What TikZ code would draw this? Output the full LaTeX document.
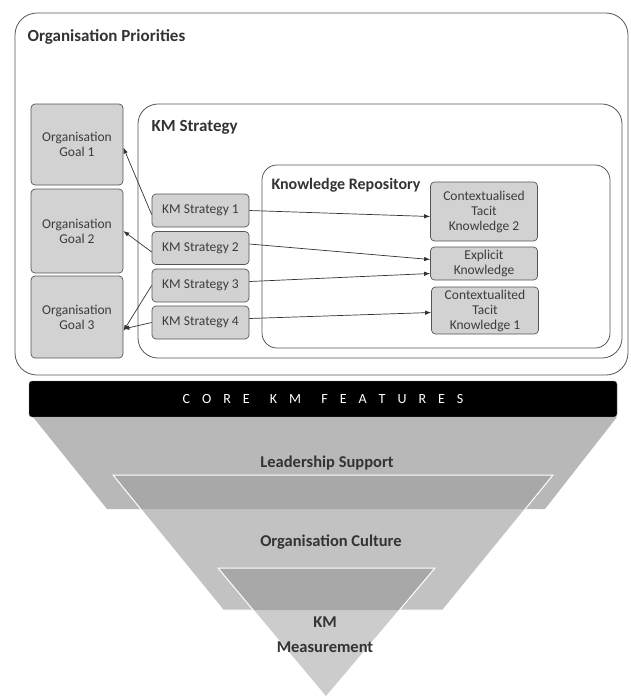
\documentclass[tikz,border=0pt]{standalone}
\usepackage{fontspec}
\setmainfont{Carlito}
\usepackage{tikz}
\usetikzlibrary{positioning,arrows.meta,calc}
\definecolor{cLine}{RGB}{85,85,85}
\definecolor{cBox}{RGB}{210,210,210}
\definecolor{cTxt}{RGB}{60,60,60}
\definecolor{cLead}{RGB}{184,184,184}
\definecolor{cCult}{RGB}{194,194,194}
\definecolor{cMeas}{RGB}{204,204,204}
\definecolor{cOver}{RGB}{168,168,168}
\newcommand{\boxfont}{\fontsize{13.5}{15}\selectfont}
\newcommand{\headfont}{\fontsize{17}{20}\selectfont\bfseries}
\newcommand{\ls}{\hspace{12pt}}
\newcommand{\ws}{\hspace{8pt} \hspace{9pt}}

\begin{document}
\begin{tikzpicture}[x=1pt,y=-1pt,
   frame/.style={draw=cLine,line width=0.8pt},
   inbox/.style={draw=cLine,fill=cBox,line width=0.7pt,rounded corners=4pt,
     align=center,inner sep=1pt,text=cTxt,font=\boxfont},
   goalbox/.style={inbox,minimum width=92pt},
   stratbox/.style={inbox,minimum width=97pt,minimum height=33pt},
   knowbox/.style={inbox,minimum width=107pt},
   head/.style={anchor=west,text=black!80,font=\headfont},
   link/.style={black!80,line width=0.7pt,-{Latex[length=6pt,width=4.5pt]}},
   layer/.style={text=black!80,font=\fontsize{16.5}{25}\selectfont\bfseries,align=center}]
 \useasboundingbox (0,0) rectangle (630,697);
 % containers
 \draw[frame,rounded corners=22pt] (15,13) rectangle (628,375);
 \node[head] (tprio) at (24,37) {Organisation Priorities};
 \draw[frame,rounded corners=20pt] (138,104) rectangle (622,358);
 \node[head] (tstrat) at (148,127) {KM Strategy};
 \draw[frame,rounded corners=15pt] (262,165) rectangle (610,348);
 \node[head,font=\fontsize{16}{18}\selectfont\bfseries] (trepo) at (268,185) {Knowledge Repository};
 % goals
 \node[goalbox,minimum height=81pt] (g1) at (77,144.5) {Organisation\\Goal 1};
 \node[goalbox,minimum height=84pt] (g2) at (77,231) {Organisation\\Goal 2};
 \node[goalbox,minimum height=82pt] (g3) at (77,317) {Organisation\\Goal 3};
 % strategies
 \foreach \i/\y in {1/210.5,2/248,3/285.5,4/322.5}
   \node[stratbox] (s\i) at (200.5,\y) {KM Strategy \i};
 % knowledge
 \node[knowbox,minimum height=59pt] (ctk2) at (484,211.5) {Contextualised\\Tacit\\Knowledge 2};
 \node[knowbox,minimum height=33pt] (ex) at (484,263.5) {Explicit\\Knowledge};
 \node[knowbox,minimum height=47pt] (ctk1) at (485,310.5) {Contextualited\\Tacit\\Knowledge 1};
 % links
 \draw[link] ([yshift=-4pt]s1.west) -- ([yshift=-3pt]g1.east);
 \draw[link] ([yshift=-4pt]s2.west) -- (g2.east);
 \draw[link] (s3.west) -- ([yshift=-14pt]g3.east);
 \draw[link] (s4.west) -- ([yshift=-12pt]g3.east);
 \draw[link] (s1.east) -- ([yshift=-5pt]ctk2.west);
 \draw[link] ([yshift=4pt]s2.east) -- ([yshift=4pt]ex.west);
 \draw[link] ([yshift=4pt]s3.east) -- ([yshift=-10pt]ex.west);
 \draw[link] ([yshift=4pt]s4.east) -- ([yshift=-2pt]ctk1.west);
 % core features bar
 \node[fill=black,draw=black!50,rounded corners=3pt,minimum width=588pt,minimum height=36pt,
   text=white,font=\fontsize{14}{16}\selectfont] (core) at (323,399)
   {C\ls O\ls R\ls E\ws K\ls M\ws F\ls E\ls A\ls T\ls U\ls R\ls E\ls S};
 % layers
 \fill[cLead] (33,417) -- (617,417) -- (545,509) -- (107,509) -- cycle;
 \fill[cCult] (113,475) -- (553,475) -- (443,610) -- (223,610) -- cycle;
 \begin{scope}
   \clip (33,417) -- (617,417) -- (545,509) -- (107,509) -- cycle;
   \fill[cOver] (113,475) -- (553,475) -- (443,610) -- (223,610) -- cycle;
 \end{scope}
 \draw[white,line width=1pt] (113,475) -- (553,475) -- (443,610) -- (223,610) -- cycle;
 \fill[cMeas] (218,568) -- (435,568) -- (326,697) -- cycle;
 \begin{scope}
   \clip (113,475) -- (553,475) -- (443,610) -- (223,610) -- cycle;
   \fill[cOver] (218,568) -- (435,568) -- (326,697) -- cycle;
 \end{scope}
 \draw[white,line width=1pt] (218,568) -- (435,568) -- (326,697) -- cycle;
 \node[layer] (lead) at (327,463) {Leadership Support};
 \node[layer] (cult) at (331,542) {Organisation Culture};
 \node[layer] (meas) at (325,635) {KM\\Measurement};
\end{tikzpicture}
\end{document}
